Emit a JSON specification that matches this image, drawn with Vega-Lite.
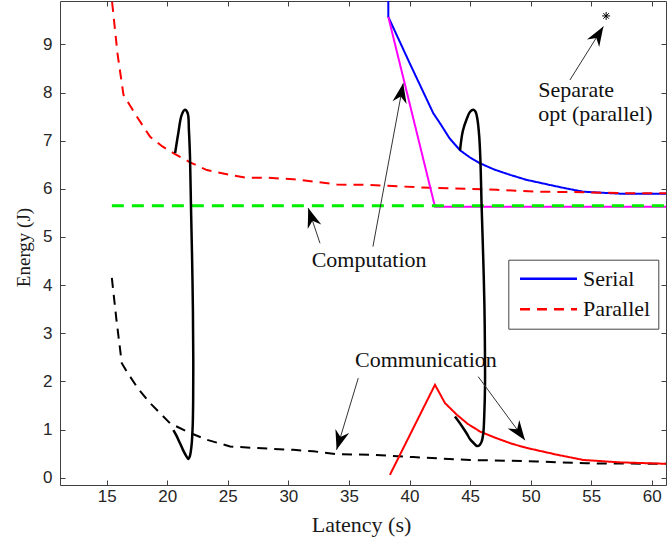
{
  "$schema": "https://vega.github.io/schema/vega-lite/v6.json",
  "width": 606,
  "height": 484,
  "autosize": {"type": "none"},
  "padding": {"left": 60, "top": 1, "right": 2, "bottom": 55},
  "background": "white",
  "config": {
    "view": {"stroke": null},
    "axis": {"grid": false, "domainColor": "#404040", "tickColor": "#404040", "tickSize": -5, "domainWidth": 1, "tickWidth": 1, "labelFont": "Liberation Sans", "labelFontSize": 17, "labelColor": "#262626", "titleFont": "Liberation Serif", "titleFontWeight": "normal", "titleColor": "#1a1a1a"}
  },
  "datasets": {
    "curves": [
      {"series": "Serial", "x": 38.25, "y": 9.9}, {"series": "Serial", "x": 38.25, "y": 9.57}, {"series": "Serial", "x": 40.03, "y": 8.6}, {"series": "Serial", "x": 41.96, "y": 7.57}, {"series": "Serial", "x": 42.52, "y": 7.36}, {"series": "Serial", "x": 43.3, "y": 7.05}, {"series": "Serial", "x": 44.17, "y": 6.8}, {"series": "Serial", "x": 45.0, "y": 6.65}, {"series": "Serial", "x": 45.82, "y": 6.53}, {"series": "Serial", "x": 47.0, "y": 6.4}, {"series": "Serial", "x": 48.3, "y": 6.29}, {"series": "Serial", "x": 49.6, "y": 6.19}, {"series": "Serial", "x": 51.04, "y": 6.11}, {"series": "Serial", "x": 52.7, "y": 6.02}, {"series": "Serial", "x": 54.34, "y": 5.94}, {"series": "Serial", "x": 55.8, "y": 5.92}, {"series": "Serial", "x": 57.37, "y": 5.9}, {"series": "Serial", "x": 61.17, "y": 5.9},
      {"series": "Parallel", "x": 15.45, "y": 9.88}, {"series": "Parallel", "x": 15.9, "y": 8.8}, {"series": "Parallel", "x": 16.39, "y": 7.95}, {"series": "Parallel", "x": 17.49, "y": 7.5}, {"series": "Parallel", "x": 18.59, "y": 7.08}, {"series": "Parallel", "x": 19.6, "y": 6.88}, {"series": "Parallel", "x": 20.65, "y": 6.72}, {"series": "Parallel", "x": 21.89, "y": 6.55}, {"series": "Parallel", "x": 23.27, "y": 6.39}, {"series": "Parallel", "x": 25.19, "y": 6.29}, {"series": "Parallel", "x": 26.57, "y": 6.23}, {"series": "Parallel", "x": 28.22, "y": 6.23}, {"series": "Parallel", "x": 30.41, "y": 6.2}, {"series": "Parallel", "x": 32.06, "y": 6.15}, {"series": "Parallel", "x": 34.0, "y": 6.09}, {"series": "Parallel", "x": 36.74, "y": 6.08}, {"series": "Parallel", "x": 41.69, "y": 6.02}, {"series": "Parallel", "x": 44.99, "y": 6.0}, {"series": "Parallel", "x": 47.2, "y": 5.98}, {"series": "Parallel", "x": 50.5, "y": 5.94}, {"series": "Parallel", "x": 54.3, "y": 5.93}, {"series": "Parallel", "x": 57.4, "y": 5.91}, {"series": "Parallel", "x": 61.17, "y": 5.91},
      {"series": "Serial lower bound", "x": 38.25, "y": 9.57}, {"series": "Serial lower bound", "x": 42.1, "y": 5.63}, {"series": "Serial lower bound", "x": 61.17, "y": 5.63},
      {"series": "Computation bound", "x": 15.43, "y": 5.65}, {"series": "Computation bound", "x": 61.0, "y": 5.65},
      {"series": "Parallel communication", "x": 15.43, "y": 4.15}, {"series": "Parallel communication", "x": 15.8, "y": 3.3}, {"series": "Parallel communication", "x": 16.25, "y": 2.38}, {"series": "Parallel communication", "x": 16.67, "y": 2.2}, {"series": "Parallel communication", "x": 17.6, "y": 1.85}, {"series": "Parallel communication", "x": 18.59, "y": 1.55}, {"series": "Parallel communication", "x": 20.24, "y": 1.13}, {"series": "Parallel communication", "x": 21.89, "y": 0.93}, {"series": "Parallel communication", "x": 23.27, "y": 0.79}, {"series": "Parallel communication", "x": 25.19, "y": 0.65}, {"series": "Parallel communication", "x": 27.1, "y": 0.62}, {"series": "Parallel communication", "x": 30.41, "y": 0.58}, {"series": "Parallel communication", "x": 32.06, "y": 0.55}, {"series": "Parallel communication", "x": 34.0, "y": 0.49}, {"series": "Parallel communication", "x": 36.74, "y": 0.48}, {"series": "Parallel communication", "x": 40.3, "y": 0.43}, {"series": "Parallel communication", "x": 44.99, "y": 0.37}, {"series": "Parallel communication", "x": 50.5, "y": 0.34}, {"series": "Parallel communication", "x": 54.6, "y": 0.3}, {"series": "Parallel communication", "x": 61.17, "y": 0.29},
      {"series": "Serial communication", "x": 38.38, "y": 0.06}, {"series": "Serial communication", "x": 42.1, "y": 1.93}, {"series": "Serial communication", "x": 42.93, "y": 1.55}, {"series": "Serial communication", "x": 43.9, "y": 1.31}, {"series": "Serial communication", "x": 44.8, "y": 1.12}, {"series": "Serial communication", "x": 45.82, "y": 0.96}, {"series": "Serial communication", "x": 47.2, "y": 0.82}, {"series": "Serial communication", "x": 48.4, "y": 0.71}, {"series": "Serial communication", "x": 49.67, "y": 0.62}, {"series": "Serial communication", "x": 52.15, "y": 0.48}, {"series": "Serial communication", "x": 54.34, "y": 0.37}, {"series": "Serial communication", "x": 57.37, "y": 0.32}, {"series": "Serial communication", "x": 61.17, "y": 0.29}
    ],
    "loops": [
      {"loop": "A", "x": 20.65, "y": 6.74}, {"loop": "A", "x": 20.91, "y": 7.15}, {"loop": "A", "x": 21.19, "y": 7.53}, {"loop": "A", "x": 21.46, "y": 7.64}, {"loop": "A", "x": 21.69, "y": 7.57}, {"loop": "A", "x": 21.79, "y": 7.22}, {"loop": "A", "x": 21.88, "y": 6.67}, {"loop": "A", "x": 21.96, "y": 5.65}, {"loop": "A", "x": 22.05, "y": 4.6}, {"loop": "A", "x": 22.12, "y": 3.5}, {"loop": "A", "x": 22.15, "y": 2.5}, {"loop": "A", "x": 22.14, "y": 1.6}, {"loop": "A", "x": 22.1, "y": 1.06}, {"loop": "A", "x": 22.0, "y": 0.65}, {"loop": "A", "x": 21.87, "y": 0.45}, {"loop": "A", "x": 21.75, "y": 0.39}, {"loop": "A", "x": 21.6, "y": 0.44}, {"loop": "A", "x": 21.3, "y": 0.58}, {"loop": "A", "x": 21.05, "y": 0.72}, {"loop": "A", "x": 20.75, "y": 0.88}, {"loop": "A", "x": 20.51, "y": 0.99},
      {"loop": "B", "x": 44.17, "y": 6.8}, {"loop": "B", "x": 44.4, "y": 7.2}, {"loop": "B", "x": 44.72, "y": 7.45}, {"loop": "B", "x": 45.0, "y": 7.6}, {"loop": "B", "x": 45.26, "y": 7.64}, {"loop": "B", "x": 45.45, "y": 7.6}, {"loop": "B", "x": 45.6, "y": 7.45}, {"loop": "B", "x": 45.75, "y": 7.1}, {"loop": "B", "x": 45.85, "y": 6.6}, {"loop": "B", "x": 45.95, "y": 5.65}, {"loop": "B", "x": 46.08, "y": 4.6}, {"loop": "B", "x": 46.18, "y": 3.6}, {"loop": "B", "x": 46.23, "y": 2.5}, {"loop": "B", "x": 46.23, "y": 1.9}, {"loop": "B", "x": 46.17, "y": 1.3}, {"loop": "B", "x": 46.09, "y": 0.93}, {"loop": "B", "x": 45.95, "y": 0.75}, {"loop": "B", "x": 45.75, "y": 0.67}, {"loop": "B", "x": 45.55, "y": 0.66}, {"loop": "B", "x": 45.3, "y": 0.72}, {"loop": "B", "x": 45.0, "y": 0.8}, {"loop": "B", "x": 44.72, "y": 0.92}, {"loop": "B", "x": 44.3, "y": 1.08}, {"loop": "B", "x": 43.75, "y": 1.27}
    ],
    "arrows": [
      {"name": "comp1", "x": 32.61, "y": 4.87, "x2": 31.64, "y2": 5.6},
      {"name": "comp2", "x": 36.98, "y": 4.8, "x2": 39.48, "y2": 8.19},
      {"name": "sep", "x": 53.24, "y": 8.26, "x2": 56.0, "y2": 9.37},
      {"name": "comm1", "x": 35.77, "y": 2.07, "x2": 33.98, "y2": 0.58},
      {"name": "comm2", "x": 45.67, "y": 2.1, "x2": 49.53, "y2": 0.78}
    ],
    "labels": [
      {"text": "Computation", "x": 31.92, "y": 4.37},
      {"text": "Communication", "x": 35.5, "y": 2.31},
      {"text": "Separate", "x": 50.63, "y": 7.9},
      {"text": "opt (parallel)", "x": 50.63, "y": 7.41}
    ],
    "star": [{"x": 56.23, "y": 9.59}]
  },
  "layer": [
    {
      "layer": [
        {
          "data": {"name": "curves"},
          "transform": [{"filter": "datum.series != 'Computation bound'"}],
          "mark": {"type": "line", "strokeWidth": 2, "clip": true},
          "encoding": {
            "x": {"field": "x", "type": "quantitative", "axis": null, "scale": {"domain": [11.15, 61.17], "nice": false, "zero": false}},
            "y": {"field": "y", "type": "quantitative", "axis": null, "scale": {"domain": [-0.15, 9.9], "nice": false, "zero": false}},
            "color": {"field": "series", "type": "nominal",
                      "scale": {"domain": ["Serial", "Parallel", "Serial lower bound", "Parallel communication", "Serial communication"], "range": ["#0000ff", "#ff0000", "#ff00ff", "#000000", "#ff0000"]},
                      "legend": {"values": ["Serial", "Parallel"], "title": null, "orient": "none", "legendX": 448.3, "legendY": 258.7, "padding": 8, "strokeColor": "#444444", "fillColor": "white", "symbolType": "M-0.75,0L5.1,0", "symbolSize": 380, "symbolStrokeWidth": 2.5, "labelFont": "Liberation Serif", "labelFontSize": 22, "labelColor": "#111111", "labelOffset": 44.7, "rowPadding": 8.6, "cornerRadius": 0}},
            "strokeDash": {"field": "series", "type": "nominal",
                      "scale": {"domain": ["Serial", "Parallel", "Serial lower bound", "Parallel communication", "Serial communication"], "range": [[1, 0], [10, 7], [1, 0], [10, 7], [1, 0]]},
                      "legend": {"values": ["Serial", "Parallel"], "title": null, "orient": "none", "legendX": 448.3, "legendY": 258.7, "padding": 8, "strokeColor": "#444444", "fillColor": "white", "symbolType": "M-0.75,0L5.1,0", "symbolSize": 380, "symbolStrokeWidth": 2.5, "labelFont": "Liberation Serif", "labelFontSize": 22, "labelColor": "#111111", "labelOffset": 44.7, "rowPadding": 8.6, "cornerRadius": 0}},
            "order": {"value": null}
          }
        },
        {
          "data": {"name": "curves"},
          "transform": [{"filter": "datum.series == 'Computation bound'"}],
          "mark": {"type": "line", "strokeWidth": 3, "color": "#00ee00", "strokeDash": [12, 8]},
          "encoding": {
            "x": {"field": "x", "type": "quantitative", "axis": null, "scale": {"domain": [11.15, 61.17], "nice": false, "zero": false}},
            "y": {"field": "y", "type": "quantitative", "axis": null, "scale": {"domain": [-0.15, 9.9], "nice": false, "zero": false}}
          }
        },
        {
          "data": {"name": "labels"},
          "mark": {"type": "text", "align": "left", "baseline": "alphabetic", "font": "Liberation Serif", "fontSize": 22, "color": "#111111"},
          "encoding": {
            "x": {"field": "x", "type": "quantitative", "axis": null, "scale": {"domain": [11.15, 61.17], "nice": false, "zero": false}},
            "y": {"field": "y", "type": "quantitative", "axis": null, "scale": {"domain": [-0.15, 9.9], "nice": false, "zero": false}},
            "text": {"field": "text"}
          }
        },
        {
          "data": {"name": "loops"},
          "mark": {"type": "line", "interpolate": "catmull-rom", "color": "black", "strokeWidth": 2.5},
          "encoding": {
            "x": {"field": "x", "type": "quantitative", "axis": null, "scale": {"domain": [11.15, 61.17], "nice": false, "zero": false}},
            "y": {"field": "y", "type": "quantitative", "axis": null, "scale": {"domain": [-0.15, 9.9], "nice": false, "zero": false}},
            "detail": {"field": "loop"},
            "order": {"value": null}
          }
        },
        {
          "data": {"name": "arrows"},
          "mark": {"type": "rule", "color": "#333333", "strokeWidth": 1},
          "encoding": {
            "x": {"field": "x", "type": "quantitative", "axis": null, "scale": {"domain": [11.15, 61.17], "nice": false, "zero": false}},
            "y": {"field": "y", "type": "quantitative", "axis": null, "scale": {"domain": [-0.15, 9.9], "nice": false, "zero": false}},
            "x2": {"field": "x2"},
            "y2": {"field": "y2"}
          }
        },
        {
          "data": {"name": "arrows"},
          "transform": [{"filter": "datum.name == 'comp1'"}],
          "mark": {"type": "point", "shape": "M0,0L-0.8,2.2L0,1.5L0.8,2.2Z", "filled": true, "color": "black", "opacity": 1, "size": 320, "angle": 341.5, "strokeWidth": 0},
          "encoding": {
            "x": {"field": "x2", "type": "quantitative", "axis": null, "scale": {"domain": [11.15, 61.17], "nice": false, "zero": false}},
            "y": {"field": "y2", "type": "quantitative", "axis": null, "scale": {"domain": [-0.15, 9.9], "nice": false, "zero": false}}
          }
        },
        {
          "data": {"name": "arrows"},
          "transform": [{"filter": "datum.name == 'comp2'"}],
          "mark": {"type": "point", "shape": "M0,0L-0.8,2.2L0,1.5L0.8,2.2Z", "filled": true, "color": "black", "opacity": 1, "size": 320, "angle": 10.7, "strokeWidth": 0},
          "encoding": {
            "x": {"field": "x2", "type": "quantitative", "axis": null, "scale": {"domain": [11.15, 61.17], "nice": false, "zero": false}},
            "y": {"field": "y2", "type": "quantitative", "axis": null, "scale": {"domain": [-0.15, 9.9], "nice": false, "zero": false}}
          }
        },
        {
          "data": {"name": "arrows"},
          "transform": [{"filter": "datum.name == 'sep'"}],
          "mark": {"type": "point", "shape": "M0,0L-0.8,2.2L0,1.5L0.8,2.2Z", "filled": true, "color": "black", "opacity": 1, "size": 320, "angle": 31.5, "strokeWidth": 0},
          "encoding": {
            "x": {"field": "x2", "type": "quantitative", "axis": null, "scale": {"domain": [11.15, 61.17], "nice": false, "zero": false}},
            "y": {"field": "y2", "type": "quantitative", "axis": null, "scale": {"domain": [-0.15, 9.9], "nice": false, "zero": false}}
          }
        },
        {
          "data": {"name": "arrows"},
          "transform": [{"filter": "datum.name == 'comm1'"}],
          "mark": {"type": "point", "shape": "M0,0L-0.8,2.2L0,1.5L0.8,2.2Z", "filled": true, "color": "black", "opacity": 1, "size": 320, "angle": 196.8, "strokeWidth": 0},
          "encoding": {
            "x": {"field": "x2", "type": "quantitative", "axis": null, "scale": {"domain": [11.15, 61.17], "nice": false, "zero": false}},
            "y": {"field": "y2", "type": "quantitative", "axis": null, "scale": {"domain": [-0.15, 9.9], "nice": false, "zero": false}}
          }
        },
        {
          "data": {"name": "arrows"},
          "transform": [{"filter": "datum.name == 'comm2'"}],
          "mark": {"type": "point", "shape": "M0,0L-0.8,2.2L0,1.5L0.8,2.2Z", "filled": true, "color": "black", "opacity": 1, "size": 320, "angle": 144.2, "strokeWidth": 0},
          "encoding": {
            "x": {"field": "x2", "type": "quantitative", "axis": null, "scale": {"domain": [11.15, 61.17], "nice": false, "zero": false}},
            "y": {"field": "y2", "type": "quantitative", "axis": null, "scale": {"domain": [-0.15, 9.9], "nice": false, "zero": false}}
          }
        },
        {
          "data": {"name": "star"},
          "mark": {"type": "point", "shape": "M0,-1L0,1M-1,0L1,0M-0.7,-0.7L0.7,0.7M-0.7,0.7L0.7,-0.7", "filled": false, "color": "black", "opacity": 1, "size": 64, "strokeWidth": 1},
          "encoding": {
            "x": {"field": "x", "type": "quantitative", "axis": null, "scale": {"domain": [11.15, 61.17], "nice": false, "zero": false}},
            "y": {"field": "y", "type": "quantitative", "axis": null, "scale": {"domain": [-0.15, 9.9], "nice": false, "zero": false}}
          }
        }
      ]
    },
    {
      "data": {"name": "star"},
      "mark": {"type": "point", "opacity": 0},
      "encoding": {
        "x": {"field": "x", "type": "quantitative", "scale": {"domain": [11.15, 61.17], "nice": false, "zero": false},
              "axis": {"orient": "bottom", "values": [15, 20, 25, 30, 35, 40, 45, 50, 55, 60], "title": "Latency (s)", "titleFontSize": 22, "titleX": 301, "titleY": 46, "titleAlign": "center", "titleBaseline": "alphabetic", "labelPadding": 8}},
        "y": {"field": "y", "type": "quantitative", "scale": {"domain": [-0.15, 9.9], "nice": false, "zero": false},
              "axis": {"orient": "left", "values": [0, 1, 2, 3, 4, 5, 6, 7, 8, 9], "title": "Energy (J)", "titleFontSize": 19, "titleAngle": -90, "titleX": -31, "titleY": 246, "titleAlign": "center", "titleBaseline": "alphabetic", "labelPadding": 13}}
      }
    },
    {
      "data": {"name": "star"},
      "mark": {"type": "point", "opacity": 0},
      "encoding": {
        "x": {"field": "x", "type": "quantitative", "scale": {"domain": [11.15, 61.17], "nice": false, "zero": false},
              "axis": {"orient": "top", "values": [15, 20, 25, 30, 35, 40, 45, 50, 55, 60], "labels": false, "title": null}},
        "y": {"field": "y", "type": "quantitative", "scale": {"domain": [-0.15, 9.9], "nice": false, "zero": false},
              "axis": {"orient": "right", "values": [0, 1, 2, 3, 4, 5, 6, 7, 8, 9], "labels": false, "title": null}}
      }
    }
  ],
  "resolve": {"axis": {"x": "independent", "y": "independent"}}
}
